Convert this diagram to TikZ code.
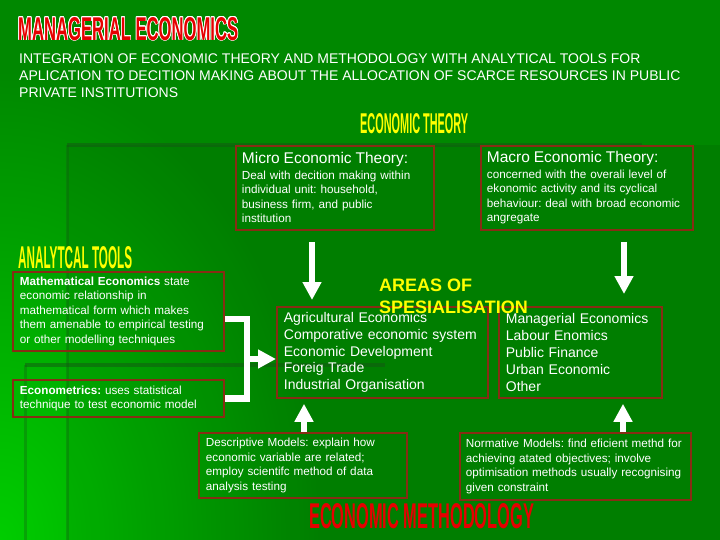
\documentclass[tikz,border=0pt]{standalone}
\usepackage{fontspec}
\setmainfont{Liberation Sans}
\usepackage{graphicx}
\usepackage[copies]{contour}
\contourlength{0.7pt}
\usetikzlibrary{arrows.meta,positioning}
\definecolor{bggreen}{RGB}{0,136,0}
\definecolor{bglight}{RGB}{0,205,0}
\definecolor{boxred}{RGB}{135,45,20}
\definecolor{ylw}{RGB}{255,255,0}
\definecolor{darkline}{RGB}{20,85,20}
\definecolor{headred}{RGB}{230,0,0}
\newcommand{\bodysize}{\fontsize{11.7}{14.5}\selectfont}
\newcommand{\listsize}{\fontsize{14}{16.8}\selectfont}
\newcommand{\headsize}{\fontsize{15.5}{18}\selectfont}
\frenchspacing
\hyphenpenalty=10000

\begin{document}
\begin{tikzpicture}[x=1pt,y=-1pt,
  box/.style={draw=boxred,line width=1.8pt,text=white,align=left,anchor=north west,
    inner xsep=7pt,inner ysep=0pt,font=\bodysize\frenchspacing},
  banner/.style={anchor=north west,inner sep=0pt,font=\bfseries},
  wide/.style={white,line width=6.5pt,line join=miter},
  fat/.style={-{Triangle[width=18pt,length=18pt]},white,line width=6.5pt}
]
\useasboundingbox (0,0) rectangle (720,540);

% background of the slide
\fill[bggreen] (0,0) rectangle (720,540);
\begin{scope}
  \clip (0,0) rectangle (720,540);
  \shade[inner color=bglight,outer color=bggreen] (0,540) ellipse [x radius=320,y radius=470];
\end{scope}
\fill[black,opacity=.07] (67,145) rectangle (720,540);
\draw[darkline,line width=4pt,opacity=.5] (67,145) -- (642,145);
\draw[darkline,line width=3pt,opacity=.3] (67,145) -- (67,540);
\draw[darkline,line width=4pt,opacity=.5] (25,365) -- (385,365);
\draw[darkline,line width=3pt,opacity=.3] (25,365) -- (25,540);

% headings
\node[banner] (title) at (18,17)
  {\textcolor{headred}{\contour{white}{\resizebox{220pt}{23pt}{MANAGERIAL ECONOMICS}}}};
\node[anchor=north west,inner sep=0pt,text=white,align=left,font=\fontsize{14}{17}\selectfont] (intro) at (19,54)
  {INTEGRATION OF ECONOMIC THEORY AND METHODOLOGY WITH ANALYTICAL TOOLS FOR\\
   APLICATION TO DECITION MAKING ABOUT THE ALLOCATION OF SCARCE RESOURCES IN PUBLIC\\
   PRIVATE INSTITUTIONS};
\node[banner,text=ylw] (theory) at (360,113) {\resizebox{108pt}{20pt}{ECONOMIC THEORY}};
\node[banner,text=ylw] (tools) at (18,246) {\resizebox{114pt}{22pt}{ANALYTCAL TOOLS}};
\node[banner,text=headred] (method) at (309,503) {\resizebox{225pt}{25pt}{ECONOMIC METHODOLOGY}};

% boxes
\node[box,inner xsep=6pt,text width=186pt,minimum height=84pt] (micro) at (235,145)
  {{\headsize Micro Economic Theory:}\\[1pt]
   Deal with decition making within\\
   individual unit: household,\\
   business firm, and public\\
   institution};
\node[box,inner xsep=6pt,text width=200pt,minimum height=84pt] (macro) at (480,145)
  {{\headsize Macro Economic Theory:}\\[1pt]
   concerned with the overali level of\\
   ekonomic activity and its cyclical\\
   behaviour: deal with broad economic\\
   angregate};
\node[box,text width=197pt,minimum height=79pt] (math) at (12,271)
  {\textbf{Mathematical Economics} state\\
   economic relationship in\\
   mathematical form which makes\\
   them amenable to empirical testing\\
   or other modelling techniques};
\node[box,text width=197pt,minimum height=37pt] (econ) at (12,379)
  {\textbf{Econometrics:} uses statistical\\
   technique to test economic model};
\node[box,font=\listsize,text width=197pt,minimum height=91pt] (areasl) at (276,306)
  {Agricultural Economics\\
   Comporative economic system\\
   Economic Development\\
   Foreig Trade\\
   Industrial Organisation};
\node[box,font=\listsize,text width=149pt,minimum height=91pt] (areasr) at (498,306)
  {Managerial Economics\\
   Labour Enomics\\
   Public Finance\\
   Urban Economic\\
   Other};
\node[box,text width=194pt,minimum height=65pt] (descr) at (198,432)
  {Descriptive Models: explain how\\
   economic variable are related;\\
   employ scientifc method of data\\
   analysis testing};
\node[box,inner xsep=6pt,text width=219pt,minimum height=67pt] (norm) at (459,432)
  {Normative Models: find eficient methd for\\
   achieving atated objectives; involve\\
   optimisation methods usually recognising\\
   given constraint};

\node[anchor=north west,inner sep=0pt,text=ylw,align=left,font=\fontsize{18}{22}\selectfont\bfseries] (areas) at (379,279)
  {AREAS OF\\SPESIALISATION};

% arrows
\coordinate (dl) at (312,0);
\coordinate (dr) at (624,0);
\coordinate (ul) at (304,0);
\coordinate (ur) at (623,0);
\coordinate (join) at (247,359);
\draw[fat,shorten <=11pt,shorten >=6pt] (micro.south -| dl) -- (areasl.north -| dl);
\draw[fat,shorten <=11pt,shorten >=12pt] (macro.south -| dr) -- (areasr.north -| dr);
\draw[fat,shorten >=5pt] (descr.north -| ul) -- (areasl.south -| ul);
\draw[fat,shorten >=5pt] (norm.north -| ur) -- (areasr.south -| ur);
\draw[wide] ([yshift=-7.5pt]math.east) -| (join) |- (econ.east);
\draw[fat] (join) -- (areasl.west |- join);
\end{tikzpicture}
\end{document}
